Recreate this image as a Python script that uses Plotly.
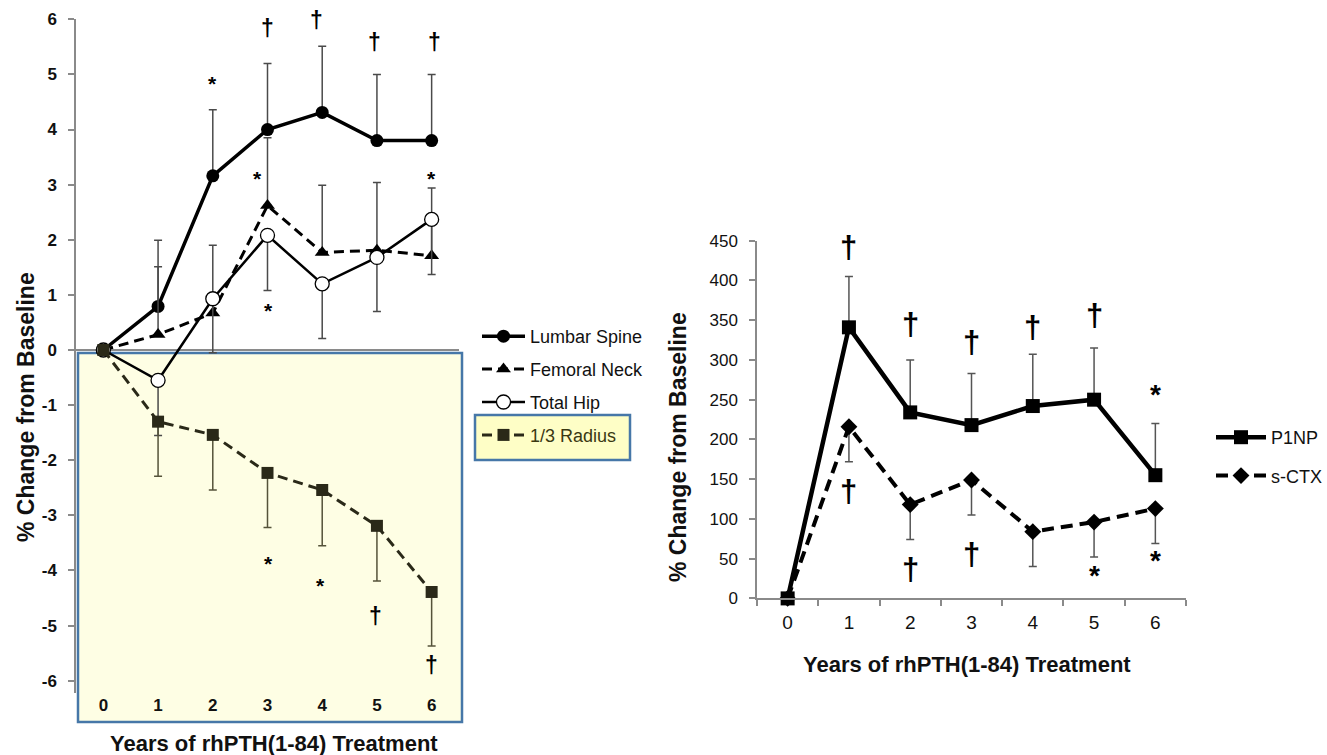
import plotly.graph_objects as go

W, H = 1327, 755
FONT = "Liberation Sans, Arial, sans-serif"

# ---------------- data: left panel (BMD) ----------------
years = [0, 1, 2, 3, 4, 5, 6]
lumbar = [0, 0.79, 3.16, 4.0, 4.31, 3.80, 3.80]
lumbar_err_up = [0, 1.2, 1.2, 1.2, 1.2, 1.2, 1.2]
femoral = [0, 0.28, 0.67, 2.62, 1.77, 1.81, 1.71]
femoral_err_up = [0, 1.23, 1.23, 1.23, 1.22, 1.23, 1.23]
hip = [0, -0.55, 0.93, 2.08, 1.20, 1.68, 2.37]
hip_err_down = [0, 1.0, 0.98, 1.0, 0.99, 0.98, 1.0]
radius = [0, -1.30, -1.54, -2.23, -2.54, -3.19, -4.39]
radius_err_down = [0, 0.99, 1.0, 0.99, 1.01, 1.0, 0.98]
left_yticks = [-6, -5, -4, -3, -2, -1, 0, 1, 2, 3, 4, 5, 6]
left_yticktext = ["-6", "-5", "-4", "-3", "-2", "-1", "0", "1", "2", "3", "4", "5", "6"]
left_marks = [  # (symbol, x, y)
    ("*", 2.0, 4.84), ("†", 3.0, 5.84), ("†", 3.9, 5.99), ("†", 4.95, 5.58),
    ("†", 6.05, 5.58), ("*", 2.82, 3.12), ("*", 3.02, 0.71), ("*", 6.0, 3.12),
    ("*", 3.02, -3.87), ("*", 3.97, -4.28), ("†", 4.97, -4.83), ("†", 6.0, -5.72),
]

# ---------------- data: right panel (markers) ----------------
p1np = [0, 341, 234, 218, 242, 250, 155]
p1np_err_up = [0, 64, 66, 65, 65, 65, 65]
sctx = [0, 216, 118, 149, 84, 96, 113]
sctx_err_down = [0, 44, 44, 44, 44, 44, 44]
right_yticks = [0, 50, 100, 150, 200, 250, 300, 350, 400, 450]
right_marks = [
    ("†", 1, 442), ("†", 2, 344), ("†", 3, 322), ("†", 4, 341), ("†", 5, 356),
    ("*", 6, 256), ("†", 1, 135), ("†", 2, 36), ("†", 3, 55), ("*", 5, 29),
    ("*", 6, 48),
]

X_TITLE = "Years of rhPTH(1-84) Treatment"
Y_TITLE = "% Change from Baseline"


def px(x):
    return x / W


def py(y):
    return 1 - y / H


GRAY = "#8a8a8a"
EB = "#4a4a4a"
OLIVE = "#2a2918"

fig = go.Figure()

# left panel traces
fig.add_trace(go.Scatter(
    x=years, y=lumbar, name="Lumbar Spine", mode="lines+markers",
    line=dict(color="black", width=3.5),
    marker=dict(symbol="circle", size=13, color="black"),
    error_y=dict(type="data", symmetric=False, array=lumbar_err_up,
                 arrayminus=[0] * 7, color=EB, thickness=1.5, width=4),
    xaxis="x", yaxis="y", legend="legend", legendgroup="a", cliponaxis=False))
fig.add_trace(go.Scatter(
    x=years, y=femoral, name="Femoral Neck", mode="lines+markers",
    line=dict(color="black", width=3, dash="10px,6px"),
    marker=dict(symbol="triangle-up", size=13, color="black"),
    error_y=dict(type="data", symmetric=False, array=femoral_err_up,
                 arrayminus=[0] * 7, color=EB, thickness=1.5, width=4),
    xaxis="x", yaxis="y", legend="legend", legendgroup="b", cliponaxis=False))
fig.add_trace(go.Scatter(
    x=years, y=hip, name="Total Hip", mode="lines+markers",
    line=dict(color="black", width=2.5),
    marker=dict(symbol="circle", size=14, color="white",
                line=dict(color="black", width=1.3)),
    error_y=dict(type="data", symmetric=False, array=[0] * 7,
                 arrayminus=hip_err_down, color=EB, thickness=1.5, width=4),
    xaxis="x", yaxis="y", legend="legend", legendgroup="c", cliponaxis=False))
fig.add_trace(go.Scatter(
    x=years, y=radius, name='<span style="color:#3a3812">1/3 Radius</span>',
    mode="lines+markers",
    line=dict(color=OLIVE, width=3, dash="10px,6px"),
    marker=dict(symbol="square", size=12, color=OLIVE),
    error_y=dict(type="data", symmetric=False, array=[0] * 7,
                 arrayminus=radius_err_down, color="#55533a", thickness=1.5, width=4),
    xaxis="x", yaxis="y", legend="legend", legendgroup="d", cliponaxis=False))

# right panel traces
fig.add_trace(go.Scatter(
    x=years, y=p1np, name="P1NP", mode="lines+markers",
    line=dict(color="black", width=4.5),
    marker=dict(symbol="square", size=14, color="black"),
    error_y=dict(type="data", symmetric=False, array=p1np_err_up,
                 arrayminus=[0] * 7, color="#555", thickness=1.5, width=4),
    xaxis="x2", yaxis="y2", legend="legend2", legendgroup="e", cliponaxis=False))
fig.add_trace(go.Scatter(
    x=years, y=sctx, name="s-CTX", mode="lines+markers",
    line=dict(color="black", width=4, dash="12px,7px"),
    marker=dict(symbol="diamond", size=13, color="black"),
    error_y=dict(type="data", symmetric=False, array=[0] * 7,
                 arrayminus=sctx_err_down, color="#555", thickness=1.5, width=4),
    xaxis="x2", yaxis="y2", legend="legend2", legendgroup="f", cliponaxis=False))

annotations = []
for s, x, y in left_marks:
    annotations.append(dict(x=x, y=y, xref="x", yref="y", text="<b>%s</b>" % s,
                            showarrow=False, xanchor="center", yanchor="middle",
                            font=dict(family=FONT, size=21 if s == "*" else 23,
                                      color="black")))
for s, x, y in right_marks:
    annotations.append(dict(x=x, y=y, xref="x2", yref="y2", text="<b>%s</b>" % s,
                            showarrow=False, xanchor="center", yanchor="middle",
                            font=dict(family=FONT, size=31 if s == "†" else 28,
                                      color="black")))

# axis titles
annotations += [
    dict(x=px(274), y=py(743), xref="paper", yref="paper", text="<b>%s</b>" % X_TITLE,
         xanchor="center", yanchor="middle",
         showarrow=False, font=dict(family=FONT, size=22, color="#111")),
    dict(x=px(967), y=py(664), xref="paper", yref="paper", text="<b>%s</b>" % X_TITLE,
         xanchor="center", yanchor="middle",
         showarrow=False, font=dict(family=FONT, size=22, color="#111")),
    dict(x=px(26), y=py(407), xref="paper", yref="paper", text="<b>%s</b>" % Y_TITLE,
         xanchor="center", yanchor="middle",
         textangle=-90, showarrow=False, font=dict(family=FONT, size=23, color="#111")),
    dict(x=px(678), y=py(447), xref="paper", yref="paper", text="<b>%s</b>" % Y_TITLE,
         xanchor="center", yanchor="middle",
         textangle=-90, showarrow=False, font=dict(family=FONT, size=23, color="#111")),
]

shapes = [
    dict(type="rect", xref="paper", yref="paper", x0=px(78), x1=px(462), y0=py(722),
         y1=py(353), fillcolor="#fefee4", line=dict(color="#4677a8", width=2.5),
         layer="below"),
    dict(type="rect", xref="paper", yref="paper", x0=px(475), x1=px(630), y0=py(460),
         y1=py(415), fillcolor="#fefec6", line=dict(color="#4677a8", width=2.5),
         layer="below"),
]

fig.update_layout(
    width=W, height=H, margin=dict(l=0, r=0, t=0, b=0, autoexpand=False),
    paper_bgcolor="white", plot_bgcolor="rgba(0,0,0,0)",
    font=dict(family=FONT, color="#111"),
    showlegend=True,
    xaxis=dict(domain=[px(76), px(459)], range=[-0.5, 6.5], tickvals=years,
               showline=False, showgrid=False, zeroline=False, ticks="",
               tickfont=dict(family=FONT, size=17, color="#111", weight="bold"),
               anchor="y"),
    yaxis=dict(domain=[py(693), py(19.3)], range=[-6.223, 6], tickvals=left_yticks,
               ticktext=left_yticktext,
               showline=True, linecolor=GRAY, linewidth=1.5, showgrid=False,
               zeroline=True, zerolinecolor=GRAY, zerolinewidth=1.5,
               ticks="outside", ticklen=6, tickcolor=GRAY, tickwidth=1.5,
               ticklabelstandoff=8,
               tickfont=dict(family=FONT, size=17, color="#111", weight="bold"),
               anchor="x"),
    xaxis2=dict(domain=[px(757), px(1186)], range=[-0.5, 6.5], tickvals=years,
                showline=True, linecolor=GRAY, linewidth=1.5, showgrid=False,
                zeroline=False, ticks="", ticklabelstandoff=6,
                minor=dict(tick0=-0.5, dtick=1, ticks="outside", ticklen=6,
                           tickcolor=GRAY, tickwidth=1.5, showgrid=False),
                tickfont=dict(family=FONT, size=19, color="#111"), anchor="y2"),
    yaxis2=dict(domain=[py(598.4), py(240.7)], range=[0, 450], tickvals=right_yticks,
                showline=True, linecolor=GRAY, linewidth=1.5, showgrid=False,
                zeroline=False, ticks="outside", ticklen=6, tickcolor=GRAY,
                tickwidth=1.5, ticklabelstandoff=8,
                tickfont=dict(family=FONT, size=17, color="#111"), anchor="x2"),
    legend=dict(x=px(477), y=py(318), xanchor="left", yanchor="top",
                bgcolor="rgba(0,0,0,0)", font=dict(family=FONT, size=18, color="#111"),
                tracegroupgap=6.5, itemwidth=43, traceorder="grouped"),
    legend2=dict(x=px(1211), y=py(419), xanchor="left", yanchor="top",
                 bgcolor="rgba(0,0,0,0)", font=dict(family=FONT, size=18, color="#111"),
                 tracegroupgap=12, itemwidth=50, traceorder="grouped"),
    annotations=annotations, shapes=shapes,
)

fig.write_html("out.html", config={"displayModeBar": False},
               post_script="document.body.style.margin='0';document.body.style.padding='0';")
